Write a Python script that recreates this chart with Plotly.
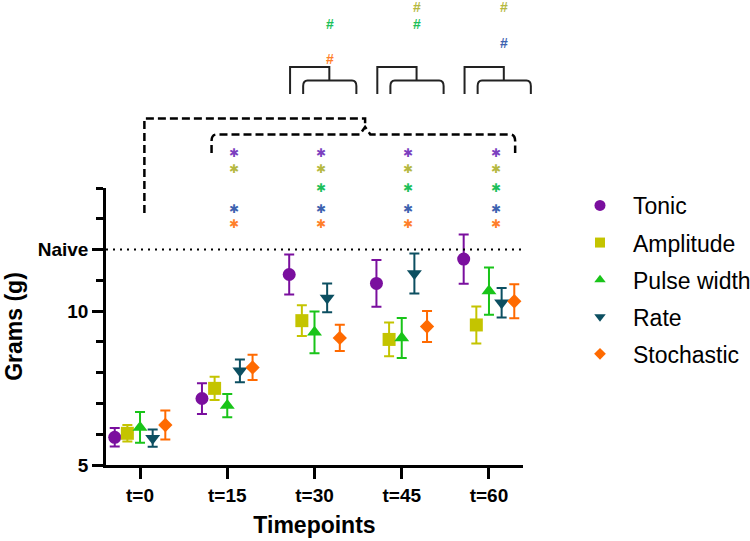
import plotly.graph_objects as go

# ---------------- data ----------------
timepoints = ["t=0", "t=15", "t=30", "t=45", "t=60"]
series_names = ["Tonic", "Amplitude", "Pulse width", "Rate", "Stochastic"]

tonic_mean = [5.90, 7.16, 11.19, 10.90, 11.69]
tonic_err = [0.30, 0.50, 0.65, 0.76, 0.80]
amplitude_mean = [6.03, 7.49, 9.69, 9.08, 9.55]
amplitude_err = [0.27, 0.38, 0.50, 0.55, 0.60]
pulse_mean = [6.22, 6.93, 9.31, 9.13, 10.65]
pulse_err = [0.50, 0.38, 0.68, 0.65, 0.77]
rate_mean = [5.87, 8.06, 10.43, 11.22, 10.27]
rate_err = [0.28, 0.37, 0.47, 0.65, 0.48]
stoch_mean = [6.30, 8.17, 9.13, 9.50, 10.32]
stoch_err = [0.47, 0.41, 0.43, 0.50, 0.55]

naive_value = 12
y_tickvals = [5, 10, 12]
y_ticktext = ["5", "10", "Naive"]

# significance marks: timepoint index -> series indices, for '*' and '#'
star_marks = {1: [0, 1, 3, 4], 2: [0, 1, 2, 3, 4], 3: [0, 1, 2, 3, 4], 4: [0, 1, 2, 3, 4]}
hash_marks = {2: [2, 4], 3: [1, 2], 4: [1, 3]}

marker_colors = ["#7A0F9E", "#C4C400", "#19C419", "#0C4F61", "#FF6A00"]
sig_colors = ["#7B3FBF", "#B5B840", "#1DBF5A", "#3D62B0", "#FF7F2A"]
symbols = ["circle", "square", "triangle-up", "triangle-down", "diamond"]
sizes = [13, 13, 13, 13, 11]
legend_sizes = [11, 10, 10, 10, 9]
offsets = [-0.29, -0.145, 0.0, 0.145, 0.29]

means = [tonic_mean, amplitude_mean, pulse_mean, rate_mean, stoch_mean]
errs = [tonic_err, amplitude_err, pulse_err, rate_err, stoch_err]

# ---------------- layout geometry ----------------
W, H = 750, 541
ML, MR, MT, MB = 106, 227, 188, 76
XMIN, XMAX = -0.39, 4.39
FONT = "Liberation Sans, Arial, sans-serif"


def px(xd):
    return (xd - XMIN) / (XMAX - XMIN)


def py(ypix):
    return (H - MB - ypix) / (H - MB - MT)


fig = go.Figure()

for k, name in enumerate(series_names):
    fig.add_trace(go.Scatter(
        x=[i + offsets[k] for i in range(len(timepoints))],
        y=means[k],
        mode="markers",
        name=name,
        legendgroup=name,
        showlegend=False,
        marker=dict(symbol=symbols[k], size=sizes[k], color=marker_colors[k]),
        error_y=dict(type="data", array=errs[k], visible=True,
                     color=marker_colors[k], thickness=2, width=5),
        cliponaxis=False,
    ))
    # legend entry with the smaller legend symbol
    fig.add_trace(go.Scatter(
        x=[None], y=[None], mode="markers", name=name, legendgroup=name,
        marker=dict(symbol=symbols[k], size=legend_sizes[k], color=marker_colors[k]),
    ))

shapes = []
# naive dotted line
shapes.append(dict(type="line", xref="paper", yref="y", x0=0, x1=1,
                   y0=naive_value, y1=naive_value,
                   line=dict(color="black", width=2, dash="2px,5px")))

# dashed brackets (t=0 vs others)
x_outer = px(0.05)
x_cusp = px(2.58)
x_in_l = px(0.82)
x_in_r = px(4.30)
yo = py(118.5)
yi = py(134.5)
ycusp = py(127)
shapes.append(dict(type="path", xref="paper", yref="paper",
                   path=f"M {x_outer},{py(213)} L {x_outer},{yo} L {x_cusp},{yo} L {x_cusp},{ycusp}",
                   line=dict(color="black", width=2.5, dash="8px,4px")))
dx = px(0.06) - px(0)
shapes.append(dict(type="path", xref="paper", yref="paper",
                   path=(f"M {x_in_l},{py(153)} L {x_in_l},{py(141)} Q {x_in_l},{yi} {x_in_l+dx},{yi} "
                         f"L {x_cusp-dx},{yi} L {x_cusp},{ycusp} L {x_cusp+dx},{yi} "
                         f"L {x_in_r-dx},{yi} Q {x_in_r},{yi} {x_in_r},{py(141)} L {x_in_r},{py(153)}"),
                   line=dict(color="black", width=2.5, dash="8px,4px")))

# solid small brackets (tonic vs others) at t=30,45,60
for i in [2, 3, 4]:
    xo = px(i - 0.28)
    xc = px(i + 0.17)
    xl = px(i - 0.13)
    xr = px(i + 0.48)
    d = px(0.05) - px(0)
    yt = py(67)
    yit = py(80.5)
    yb = py(94)
    shapes.append(dict(type="path", xref="paper", yref="paper",
                       path=f"M {xo},{yb} L {xo},{yt} L {xc},{yt} L {xc},{yit}",
                       line=dict(color="#222222", width=2)))
    shapes.append(dict(type="path", xref="paper", yref="paper",
                       path=(f"M {xl},{yb} L {xl},{py(86)} Q {xl},{yit} {xl+d},{yit} "
                             f"L {xr-d},{yit} Q {xr},{yit} {xr},{py(86)} L {xr},{yb}"),
                       line=dict(color="#222222", width=2)))

annotations = []
star_rows = [152.7, 169, 188.3, 209, 224.3]
for i, ks in star_marks.items():
    for k in ks:
        annotations.append(dict(x=px(i + 0.075), y=py(star_rows[k]), xref="paper", yref="paper",
                                text="✱", showarrow=False,
                                font=dict(family="DejaVu Sans", size=12, color=sig_colors[k]),
                                xanchor="center", yanchor="middle"))
hash_rows = [-11, 6.7, 24, 42.7, 59.3]
for i, ks in hash_marks.items():
    for k in ks:
        annotations.append(dict(x=px(i + 0.175), y=py(hash_rows[k]), xref="paper", yref="paper",
                                text="<b>#</b>", showarrow=False,
                                font=dict(family=FONT, size=14, color=sig_colors[k]),
                                xanchor="center", yanchor="middle"))

fig.update_layout(
    width=W, height=H,
    margin=dict(l=ML, r=MR, t=MT, b=MB, autoexpand=False),
    paper_bgcolor="white", plot_bgcolor="white",
    font=dict(family=FONT, color="black"),
    showlegend=True,
    legend=dict(x=(567 - ML) / (W - ML - MR), y=py(184), xanchor="left", yanchor="top",
                font=dict(family=FONT, size=23, color="black"),
                tracegroupgap=4.2, itemwidth=56, bgcolor="rgba(0,0,0,0)"),
    shapes=shapes,
    annotations=annotations,
    xaxis=dict(range=[XMIN, XMAX], tickvals=list(range(len(timepoints))), ticktext=timepoints,
               showgrid=False, zeroline=False, showline=True, linecolor="black", linewidth=2.5,
               ticks="outside", ticklen=11, tickwidth=2.5, tickcolor="black",
               tickfont=dict(family=FONT, size=19, color="black", weight="bold"),
               title=dict(text="<b>Timepoints</b>", font=dict(family=FONT, size=23, color="black"),
                          standoff=13)),
    yaxis=dict(range=[5, 14], tickvals=y_tickvals, ticktext=y_ticktext,
               showgrid=False, zeroline=False, showline=True, linecolor="black", linewidth=2.5,
               ticks="outside", ticklen=11, tickwidth=2.5, tickcolor="black",
               tickfont=dict(family=FONT, size=19, color="black", weight="bold"),
               minor=dict(tick0=5, dtick=1, ticks="outside", ticklen=7, tickwidth=2.5, tickcolor="black",
                          showgrid=False),
               title=dict(text="<b>Grams (g)</b>", font=dict(family=FONT, size=23, color="black"),
                          standoff=9)),
)

fig.write_html("out.html")
